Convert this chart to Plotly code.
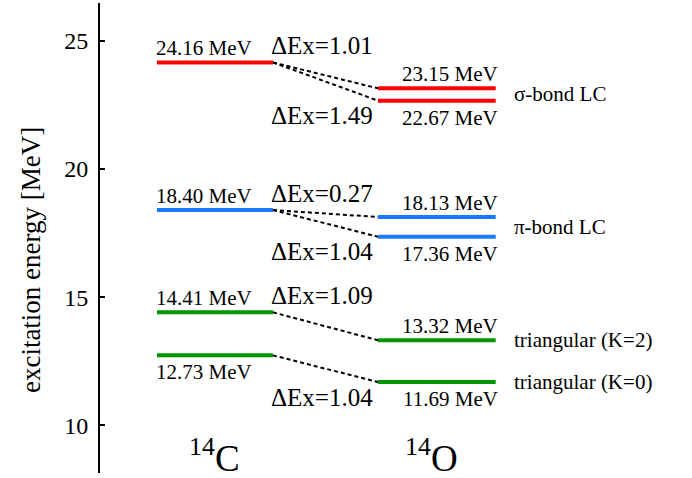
import plotly.graph_objects as go

# Excitation energies [MeV]
c14_levels = [24.16, 18.40, 14.41, 12.73]
o14_levels = [23.15, 22.67, 18.13, 17.36, 13.32, 11.69]
c14_colors = ["#ff0000", "#1a7aff", "#009600", "#009600"]
o14_colors = ["#ff0000", "#ff0000", "#1a7aff", "#1a7aff", "#009600", "#009600"]
c14_label_side = ["above", "above", "above", "below"]
o14_label_side = ["above", "below", "above", "below", "above", "below"]

# (14C level index, 14O level index, side of the ΔEx label)
links = [(0, 0, "above"), (0, 1, "below"),
         (1, 2, "above"), (1, 3, "below"),
         (2, 4, "above"), (3, 5, "below")]

# Band names: text and the 14O levels they belong to
band_names = ["σ-bond LC", "π-bond LC", "triangular (K=2)", "triangular (K=0)"]
band_levels = [[0, 1], [2, 3], [4], [5]]

nuclei = ["<sup>14</sup>C", "<sup>14</sup>O"]
y_ticks = [10, 15, 20, 25]

FONT = "Liberation Serif, Times New Roman, serif"

# Horizontal layout of the two level columns (x axis units)
C_X0, C_X1 = 0.0, 1.0
O_X0, O_X1 = 1.905, 2.92
X_RANGE = [-0.491, 4.612]
Y_RANGE = [8.14, 26.48]

fig = go.Figure()

# Dotted connectors between corresponding levels
for ci, oi, _ in links:
    fig.add_trace(go.Scatter(
        x=[C_X1, O_X0], y=[c14_levels[ci], o14_levels[oi]],
        mode="lines", line=dict(color="black", width=2, dash="4px,3px"),
        hoverinfo="skip", showlegend=False))

# Energy levels
for e, col in zip(c14_levels, c14_colors):
    fig.add_trace(go.Scatter(x=[C_X0, C_X1], y=[e, e], mode="lines",
                             line=dict(color=col, width=4),
                             showlegend=False))
for e, col in zip(o14_levels, o14_colors):
    fig.add_trace(go.Scatter(x=[O_X0, O_X1], y=[e, e], mode="lines",
                             line=dict(color=col, width=4),
                             showlegend=False))

ann = []
SHIFT_ABOVE, SHIFT_BELOW = 14, -17

for e, side in zip(c14_levels, c14_label_side):
    ann.append(dict(x=C_X0, y=e, text=f"{e:.2f} MeV", xanchor="left",
                    yanchor="middle", xshift=-3,
                    yshift=SHIFT_ABOVE if side == "above" else SHIFT_BELOW,
                    font=dict(size=21)))
for e, side in zip(o14_levels, o14_label_side):
    ann.append(dict(x=O_X1, y=e, text=f"{e:.2f} MeV", xanchor="right",
                    yanchor="middle", xshift=4,
                    yshift=SHIFT_ABOVE if side == "above" else SHIFT_BELOW,
                    font=dict(size=21)))

# ΔEx = E(14C) - E(14O)
for ci, oi, side in links:
    dex = c14_levels[ci] - o14_levels[oi]
    if side == "above":
        y, ys = c14_levels[ci], 17
    else:
        y, ys = o14_levels[oi], -15
    ann.append(dict(x=C_X1, y=y, text=f"ΔEx={dex:.2f}", xanchor="left",
                    yanchor="middle", xshift=-4, yshift=ys,
                    font=dict(size=25)))

for name, idx in zip(band_names, band_levels):
    y = sum(o14_levels[i] for i in idx) / len(idx)
    ann.append(dict(x=O_X1, y=y, text=name, xanchor="left", yanchor="middle",
                    xshift=16, font=dict(size=21)))

for name, xc, xs in zip(nuclei, [(C_X0 + C_X1) / 2, (O_X0 + O_X1) / 2], [0, -5]):
    ann.append(dict(x=xc, y=0, yref="paper", text=name, xanchor="center",
                    yanchor="middle", xshift=xs, yshift=18,
                    font=dict(size=37)))

ann.append(dict(x=0, xref="paper", y=0.453, yref="paper",
                text="excitation energy [MeV]", textangle=-90,
                xanchor="center", yanchor="middle", xshift=-69,
                font=dict(size=27)))

for a in ann:
    a.setdefault("xref", "x")
    a.setdefault("yref", "y")
    a["showarrow"] = False
    a["font"]["family"] = FONT
    a["font"]["color"] = "black"

fig.update_layout(
    width=692, height=478,
    margin=dict(l=100, r=0, t=3, b=5),
    paper_bgcolor="white", plot_bgcolor="white",
    font=dict(family=FONT, color="black"),
    annotations=ann,
    xaxis=dict(range=X_RANGE, visible=False, fixedrange=True),
    yaxis=dict(range=Y_RANGE, showgrid=False, zeroline=False,
               showline=True, linecolor="black", linewidth=2,
               ticks="inside", ticklen=5, tickwidth=2, tickcolor="black",
               tickvals=y_ticks, tickfont=dict(size=24, family=FONT),
               ticklabelstandoff=5, fixedrange=True),
)

fig.write_html("out.html")
